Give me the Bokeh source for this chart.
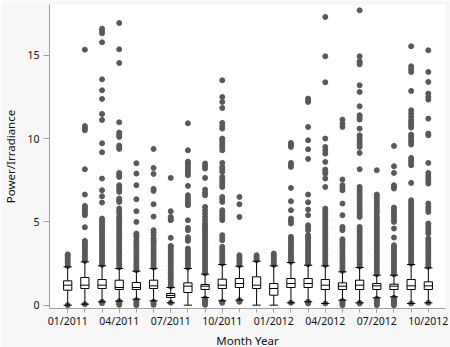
from bokeh.plotting import figure
from bokeh.models import FixedTicker, ColumnDataSource, Range1d, Title
from bokeh.embed import file_html
from bokeh.resources import INLINE

months = ["01/2011", "02/2011", "03/2011", "04/2011", "05/2011", "06/2011",
          "07/2011", "08/2011", "09/2011", "10/2011", "11/2011", "12/2011",
          "01/2012", "02/2012", "03/2012", "04/2012", "05/2012", "06/2012",
          "07/2012", "08/2012", "09/2012", "10/2012"]
tick_labels = ["01/2011", "04/2011", "07/2011", "10/2011",
               "01/2012", "04/2012", "07/2012", "10/2012"]

whisker_lo = [0.0, 0.06, 0.2, 0.24, 0.36, 0.26, 0.14, 0.0, 0.46, 0.26, 0.3,
              0.0, 0.0, 0.14, 0.2, 0.1, 0.3, 0.14, 0.44, 0.5, 0.1, 0.14]
q1 = [0.9, 1.0, 1.0, 0.94, 0.94, 1.0, 0.46, 0.76, 0.94, 1.0, 1.06,
      1.0, 0.6, 1.06, 1.06, 0.94, 0.94, 0.94, 0.94, 0.94, 0.94, 0.94]
median = [1.2, 1.2, 1.2, 1.06, 1.06, 1.16, 0.58, 1.14, 1.14, 1.2, 1.3,
          1.2, 1.0, 1.3, 1.3, 1.2, 1.14, 1.2, 1.16, 1.14, 1.16, 1.16]
q3 = [1.46, 1.66, 1.54, 1.5, 1.36, 1.5, 0.7, 1.34, 1.24, 1.56, 1.6,
      1.7, 1.3, 1.6, 1.6, 1.54, 1.34, 1.5, 1.3, 1.26, 1.54, 1.4]
whisker_hi = [2.3, 2.6, 2.36, 2.2, 2.04, 2.2, 1.06, 2.2, 1.86, 2.44, 2.34,
              2.64, 2.36, 2.56, 2.4, 2.36, 2.0, 2.26, 1.8, 1.8, 2.44, 2.24]

outliers = [
    # 01/2011
    [0.0, 2.35, 2.48, 2.6, 2.72, 2.85, 2.97, 3.05],
    # 02/2011
    [0.06, 2.66, 2.8, 2.94, 3.08, 3.22, 3.36, 3.5, 3.64, 3.76, 3.86, 4.68,
     5.4, 5.5, 5.62, 5.75, 5.86, 5.96, 6.64, 8.16, 10.5, 10.62, 10.75, 15.34],
    # 03/2011
    [0.12, 0.2, 2.42, 2.56, 2.7, 2.84, 2.98, 3.12, 3.26, 3.4, 3.54, 3.68, 3.82,
     3.96, 4.1, 4.24, 4.38, 4.5, 4.62, 4.75, 4.88, 5.0, 5.1, 5.2, 6.16, 6.54,
     6.9, 7.6, 9.18, 9.72, 11.12, 11.48, 12.38, 12.9, 13.56, 15.78, 16.32,
     16.46, 16.6],
    # 04/2011
    [0.02, 0.1, 0.18, 0.24, 2.28, 2.42, 2.56, 2.7, 2.84, 2.98, 3.12, 3.26,
     3.4, 3.54, 3.68, 3.82, 3.96, 4.1, 4.24, 4.38, 4.52, 4.66, 4.8, 4.94,
     5.08, 5.2, 5.3, 5.5, 5.65, 5.8, 6.2, 6.3, 6.4, 6.8, 6.95, 7.05, 7.2,
     7.7, 7.82, 7.94, 9.38, 9.48, 9.58, 10.1, 10.22, 10.36, 10.98, 14.54,
     15.36, 16.94],
    # 05/2011
    [0.0, 0.1, 0.2, 0.3, 2.1, 2.24, 2.38, 2.52, 2.66, 2.8, 2.94, 3.08, 3.22,
     3.36, 3.5, 3.64, 3.78, 3.9, 4.1, 4.2, 4.3, 5.0, 5.64, 6.36, 7.2, 7.9,
     8.52],
    # 06/2011
    [0.02, 0.12, 0.2, 2.26, 2.4, 2.54, 2.68, 2.82, 2.96, 3.1, 3.24, 3.38,
     3.52, 3.66, 3.8, 3.9, 4.0, 4.2, 4.35, 4.5, 5.32, 6.06, 6.86, 6.98, 7.88,
     8.24, 9.38],
    # 07/2011
    [0.14, 1.12, 1.26, 1.4, 1.54, 1.68, 1.82, 1.96, 2.1, 2.24, 2.38, 2.52,
     2.66, 2.8, 2.94, 3.08, 3.22, 3.36, 3.5, 3.56, 4.04, 5.1, 5.2, 5.3,
     5.64, 7.64],
    # 08/2011
    [2.26, 2.4, 2.54, 2.68, 2.82, 2.96, 3.1, 3.24, 3.4, 3.86, 3.96, 4.08,
     4.5, 4.64, 5.1, 6.0, 6.15, 6.3, 6.45, 6.6, 7.16, 7.8, 7.95, 8.1, 8.25,
     8.4, 8.52, 8.62, 9.3, 10.92],
    # 09/2011
    [0.02, 0.12, 0.22, 0.32, 0.4, 1.92, 2.06, 2.2, 2.34, 2.48, 2.62, 2.76,
     2.9, 3.04, 3.18, 3.32, 3.46, 3.6, 3.74, 3.88, 4.02, 4.16, 4.3, 4.44,
     4.58, 4.7, 4.8, 4.9, 5.1, 5.3, 5.5, 5.7, 5.9, 6.6, 6.75, 6.94, 7.64,
     8.2, 8.35, 8.5],
    # 10/2011
    [0.14, 0.2, 2.5, 2.64, 2.78, 2.92, 3.06, 3.2, 3.34, 3.5, 3.9, 4.05, 4.2,
     5.1, 5.25, 5.4, 5.55, 5.7, 6.2, 6.35, 6.5, 7.1, 7.25, 7.4, 7.55, 7.7,
     8.0, 8.15, 8.3, 8.54, 9.3, 9.45, 9.6, 9.75, 9.9, 10.0, 10.6, 10.75,
     10.94, 11.84, 12.2, 12.5, 13.5],
    # 11/2011
    [0.2, 0.25, 0.3, 2.4, 2.52, 2.64, 2.76, 2.88, 3.0, 5.3, 6.06, 6.5],
    # 12/2011
    [2.7, 2.8, 2.9, 3.0],
    # 01/2012
    [2.42, 2.54, 2.66, 2.78, 2.9, 3.0, 3.1],
    # 02/2012
    [0.14, 2.6, 2.74, 2.88, 3.02, 3.16, 3.3, 3.44, 3.58, 3.72, 3.86, 4.0,
     4.1, 4.9, 5.05, 5.2, 5.7, 6.24, 7.04, 8.3, 8.42, 8.54, 9.5, 9.62, 9.74],
    # 03/2012
    [0.1, 0.2, 2.46, 2.6, 2.74, 2.88, 3.02, 3.16, 3.3, 3.44, 3.58, 3.72,
     3.86, 4.0, 4.1, 4.2, 4.5, 4.65, 4.8, 5.4, 5.74, 6.18, 6.64, 8.78, 9.36,
     9.9, 10.7, 12.2, 12.3, 12.4],
    # 04/2012
    [0.1, 2.42, 2.56, 2.7, 2.84, 2.98, 3.12, 3.26, 3.4, 3.54, 3.68, 3.82,
     3.96, 4.1, 4.24, 4.38, 4.52, 4.66, 4.8, 4.94, 5.08, 5.22, 5.36, 5.5,
     5.64, 5.8, 7.1, 7.6, 7.9, 8.02, 8.14, 8.6, 9.1, 9.3, 9.5, 10.0, 13.38,
     14.94, 17.3],
    # 05/2012
    [0.0, 0.1, 0.18, 0.25, 2.06, 2.2, 2.34, 2.48, 2.62, 2.76, 2.9, 3.04,
     3.18, 3.32, 3.46, 3.6, 3.74, 3.86, 3.96, 4.5, 4.6, 4.7, 5.4, 6.1, 6.9,
     7.05, 7.2, 7.54, 10.7, 10.9, 11.14],
    # 06/2012
    [0.1, 0.14, 2.32, 2.46, 2.6, 2.74, 2.88, 3.02, 3.16, 3.3, 3.44, 3.58,
     3.72, 3.86, 4.0, 4.14, 4.28, 4.42, 4.56, 4.7, 5.3, 5.45, 5.6, 5.75,
     5.9, 6.05, 6.2, 6.35, 6.5, 6.65, 6.8, 6.95, 7.1, 8.16, 9.14, 9.5,
     9.65, 9.8, 9.95, 10.1, 10.2, 10.6, 11.14, 11.27, 11.4, 11.94, 12.8,
     13.2, 14.46, 14.55, 14.64, 14.94, 17.7],
    # 07/2012
    [0.0, 0.1, 0.2, 0.3, 0.38, 1.86, 2.0, 2.14, 2.28, 2.42, 2.56, 2.7,
     2.84, 2.98, 3.12, 3.26, 3.4, 3.54, 3.68, 3.82, 3.96, 4.1, 4.24, 4.38,
     4.52, 4.66, 4.8, 4.94, 5.08, 5.2, 5.3, 5.5, 5.65, 5.8, 5.95, 6.1,
     6.25, 6.4, 6.52, 6.64, 8.1],
    # 08/2012
    [0.0, 0.1, 0.2, 0.3, 0.38, 0.44, 1.86, 2.0, 2.14, 2.28, 2.42, 2.56,
     2.7, 2.84, 2.98, 3.12, 3.26, 3.4, 3.52, 3.6, 4.06, 4.6, 5.0, 5.15, 5.3,
     5.45, 5.6, 5.75, 5.86, 7.0, 7.1, 7.2, 7.94, 8.34, 9.56],
    # 09/2012
    [0.1, 2.5, 2.64, 2.78, 2.92, 3.06, 3.2, 3.34, 3.48, 3.62, 3.76, 3.9,
     4.04, 4.18, 4.32, 4.46, 4.6, 4.74, 4.88, 5.02, 5.16, 5.3, 5.44, 5.58,
     5.72, 5.86, 6.0, 6.14, 6.3, 7.34, 8.4, 8.55, 8.7, 8.84, 9.64, 9.8,
     9.95, 10.1, 10.24, 10.66, 10.8, 10.95, 11.1, 11.3, 11.5, 11.7, 12.86,
     14.0, 14.17, 14.34, 15.54],
    # 10/2012
    [0.14, 2.3, 2.44, 2.58, 2.72, 2.86, 3.0, 3.14, 3.28, 3.42, 3.56, 3.7,
     3.84, 4.0, 4.3, 4.45, 4.6, 4.75, 4.9, 5.6, 5.75, 5.9, 6.1, 7.3, 7.45,
     7.6, 7.75, 7.94, 8.54, 10.2, 10.3, 11.2, 12.34, 12.5, 12.7, 13.4, 14.0,
     15.3],
]

x_title = "Month Year"
y_title = "Power/Irradiance"

n = len(months)
xs = list(range(n))
half = 0.24

box_src = ColumnDataSource(dict(
    x=xs, q1=q1, q3=q3, med=median, lo=whisker_lo, hi=whisker_hi,
    left=[x - half for x in xs], right=[x + half for x in xs],
))
ox, oy = [], []
for i, vals in enumerate(outliers):
    for v in vals:
        ox.append(i)
        oy.append(v)

x_lo, x_hi = -1.06, 22.0
y_lo, y_hi = -0.2, 18.05

p = figure(width=450, height=347, output_backend="svg", toolbar_location=None,
           x_range=Range1d(x_lo, x_hi), y_range=Range1d(y_lo, y_hi),
           min_border_left=45, min_border_right=5, min_border_top=4,
           min_border_bottom=39)
p.background_fill_color = "white"
p.border_fill_color = "#f7f7f7"
p.outline_line_color = None
p.grid.visible = False

p.scatter(ox, oy, size=5, fill_color="#595959", line_color="#595959")

p.segment(x0="x", y0="lo", x1="x", y1="hi", source=box_src,
          line_color="black", line_width=1)
p.segment(x0="left", y0="lo", x1="right", y1="lo", source=box_src,
          line_color="black", line_width=1)
p.segment(x0="left", y0="hi", x1="right", y1="hi", source=box_src,
          line_color="black", line_width=1)
p.vbar(x="x", width=2 * half, bottom="q1", top="q3", source=box_src,
       fill_color="white", line_color="black", line_width=1)
p.segment(x0="left", y0="med", x1="right", y1="med", source=box_src,
          line_color="black", line_width=1)

label_ticks = [i for i, m in enumerate(months) if m in tick_labels]
p.xaxis.ticker = FixedTicker(ticks=label_ticks, minor_ticks=xs)
p.xaxis.major_label_overrides = {i: months[i] for i in label_ticks}
p.yaxis.ticker = FixedTicker(ticks=[0, 5, 10, 15], minor_ticks=[])

axis_gray = "#a0a0a0"
for ax in (p.xaxis[0], p.yaxis[0]):
    ax.axis_line_color = axis_gray
    ax.major_tick_line_color = axis_gray
    ax.minor_tick_line_color = axis_gray
    ax.major_tick_in = 0
    ax.minor_tick_in = 0
    ax.major_label_text_font = "Noto Sans"
    ax.major_label_text_font_size = "10.5px"
    ax.major_label_text_color = "#111111"
    ax.axis_label_text_font = "Noto Sans"
    ax.axis_label_text_font_style = "normal"
    ax.axis_label_text_color = "#111111"

p.xaxis.major_tick_out = 4
p.xaxis.minor_tick_out = 4
p.xaxis.major_label_standoff = 1

p.yaxis.major_tick_out = 6
p.yaxis.major_label_standoff = 4
p.yaxis.axis_label = y_title
p.yaxis.axis_label_text_font_size = "11.5px"
p.yaxis.axis_label_standoff = 6

# x-axis title as a bottom title centred under the plot area
p.add_layout(Title(text=x_title, align="center", text_font="Noto Sans",
                   text_font_size="11.5px", text_font_style="normal",
                   text_color="#111111", standoff=0, offset=0), "below")

open("out.html", "w").write(file_html(p, INLINE))
